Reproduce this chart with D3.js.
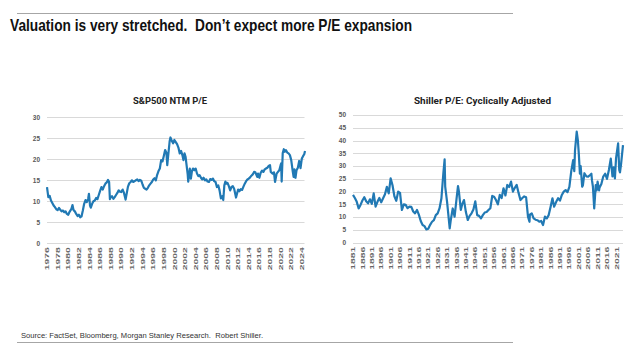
<!DOCTYPE html>
<html>
<head>
<meta charset="utf-8">
<script src="https://cdn.jsdelivr.net/npm/d3@7/dist/d3.min.js"></script>
<style>
  body { margin: 0; background: #fff; }
  svg { display: block; font-family: "Liberation Sans", Arial, sans-serif; }
</style>
</head>
<body>
<div id="chart"></div>
<script>
// --- Data ---
// S&P500 forward (NTM) P/E, [year, value]
var spxPE = [
  [1976.0, 13.4], [1976.25, 11.0], [1976.5, 11.3], [1976.75, 10.2],
  [1977.0, 9.6], [1977.25, 9.0], [1977.5, 8.6], [1977.75, 8.1],
  [1978.0, 7.9], [1978.25, 8.4], [1978.5, 8.0], [1978.75, 7.6],
  [1979.0, 7.8], [1979.25, 7.4], [1979.5, 7.6], [1979.75, 7.0],
  [1980.0, 6.8], [1980.25, 7.5], [1980.6, 8.2], [1980.8, 9.1], [1981.0, 7.9],
  [1981.25, 7.6], [1981.5, 7.0], [1981.75, 6.5], [1982.0, 6.8],
  [1982.25, 6.2], [1982.5, 6.4], [1982.75, 7.8], [1983.0, 9.4],
  [1983.25, 10.3], [1983.5, 9.8], [1983.75, 10.6], [1983.9, 11.8], [1984.1, 9.0],
  [1984.25, 8.5], [1984.5, 9.4], [1984.75, 10.0], [1985.0, 10.2],
  [1985.25, 10.8], [1985.5, 10.5], [1985.75, 11.5], [1986.0, 12.5],
  [1986.25, 13.4], [1986.5, 12.8], [1986.75, 13.6], [1987.0, 14.2],
  [1987.25, 14.5], [1987.5, 15.1], [1987.7, 14.6], [1987.85, 10.5], [1988.0, 11.0],
  [1988.25, 11.2], [1988.5, 10.6], [1988.75, 11.0], [1989.0, 11.5],
  [1989.25, 12.0], [1989.5, 12.6], [1989.75, 12.3], [1990.0, 12.2],
  [1990.25, 12.8], [1990.5, 12.0], [1990.8, 10.4], [1991.0, 11.8],
  [1991.25, 13.5], [1991.5, 14.3], [1991.75, 14.6], [1992.0, 15.0],
  [1992.25, 14.6], [1992.5, 14.8], [1992.75, 15.0], [1993.0, 15.2],
  [1993.25, 14.8], [1993.5, 15.1], [1993.75, 14.9], [1994.0, 14.0],
  [1994.25, 13.2], [1994.5, 13.0], [1994.75, 12.8], [1995.0, 13.2],
  [1995.25, 13.8], [1995.5, 14.2], [1995.75, 14.6], [1996.0, 15.2],
  [1996.25, 15.5], [1996.5, 15.0], [1996.75, 16.3], [1997.0, 17.2],
  [1997.25, 17.8], [1997.5, 19.8], [1997.75, 19.5], [1998.0, 20.8],
  [1998.25, 22.2], [1998.5, 21.5], [1998.65, 18.6], [1998.9, 21.8],
  [1999.1, 24.3], [1999.25, 25.2], [1999.5, 24.4], [1999.75, 23.8],
  [2000.0, 24.6], [2000.25, 24.1], [2000.5, 23.6], [2000.75, 22.8],
  [2001.0, 21.4], [2001.25, 22.0], [2001.5, 21.0], [2001.7, 19.8],
  [2001.9, 21.4], [2002.1, 20.6], [2002.3, 18.5], [2002.5, 16.4],
  [2002.6, 14.7], [2002.9, 17.8], [2003.1, 15.4], [2003.3, 17.2],
  [2003.5, 17.8], [2003.75, 17.4], [2004.0, 17.8], [2004.25, 16.6],
  [2004.5, 16.0], [2004.75, 16.2], [2005.0, 15.6], [2005.25, 15.2],
  [2005.5, 15.6], [2005.75, 15.0], [2006.0, 15.2], [2006.25, 14.7],
  [2006.5, 14.6], [2006.75, 15.3], [2007.0, 15.1], [2007.25, 15.4],
  [2007.5, 14.8], [2007.75, 14.6], [2008.0, 13.4], [2008.25, 13.8],
  [2008.5, 12.6], [2008.75, 10.7], [2009.0, 11.2], [2009.2, 10.3],
  [2009.4, 13.8], [2009.6, 14.7], [2009.8, 14.2], [2010.0, 14.4],
  [2010.25, 13.6], [2010.5, 12.6], [2010.75, 13.4], [2011.0, 13.6],
  [2011.25, 13.0], [2011.6, 10.9], [2011.75, 11.6], [2012.0, 12.8],
  [2012.25, 12.4], [2012.5, 12.9], [2012.75, 12.7], [2013.0, 13.5],
  [2013.25, 14.2], [2013.5, 14.8], [2013.75, 15.2], [2014.0, 15.4],
  [2014.25, 15.7], [2014.5, 16.1], [2014.75, 16.4], [2015.0, 17.0],
  [2015.25, 16.9], [2015.6, 15.8], [2015.75, 16.6], [2016.0, 15.6],
  [2016.25, 16.8], [2016.5, 17.3], [2016.75, 17.0], [2017.0, 17.6],
  [2017.25, 17.8], [2017.5, 18.0], [2017.75, 18.4], [2018.0, 18.6],
  [2018.15, 17.0], [2018.5, 16.6], [2018.75, 16.9], [2018.95, 14.6],
  [2019.25, 16.6], [2019.5, 17.0], [2019.75, 17.4], [2020.0, 18.6],
  [2020.1, 19.0], [2020.2, 14.7], [2020.4, 21.5], [2020.6, 22.4],
  [2020.8, 21.8], [2021.0, 22.2], [2021.25, 21.6], [2021.5, 21.4],
  [2021.75, 21.0], [2022.0, 19.8], [2022.3, 17.0], [2022.45, 15.8],
  [2022.6, 17.6], [2022.8, 15.6], [2023.0, 17.4], [2023.25, 18.0],
  [2023.5, 19.6], [2023.75, 17.9], [2024.0, 20.2], [2024.25, 20.8],
  [2024.45, 21.2], [2024.6, 22.0]
];

// Shiller cyclically adjusted P/E, [year, value]
var shillerPE = [
  [1881, 18.7], [1882, 17.5], [1883, 16.0], [1884, 13.4], [1885, 14.8],
  [1886, 16.5], [1887, 17.8], [1888, 16.2], [1889, 15.4], [1890, 17.0],
  [1891, 15.2], [1892, 19.3], [1893, 14.1], [1894, 16.0], [1895, 17.5],
  [1896, 15.8], [1897, 17.4], [1898, 19.0], [1899, 21.9], [1900, 19.3],
  [1901, 25.2], [1902, 22.5], [1903, 18.2], [1904, 16.4], [1905, 20.0],
  [1906, 19.5], [1907, 12.8], [1908, 15.0], [1909, 14.8], [1910, 13.5],
  [1911, 14.1], [1912, 14.0], [1913, 12.2], [1914, 11.5], [1915, 12.8],
  [1916, 11.0], [1917, 8.5], [1918, 6.9], [1919, 6.5], [1920, 5.2],
  [1921, 5.5], [1922, 7.0], [1923, 8.2], [1924, 8.8], [1925, 10.8],
  [1926, 11.5], [1927, 13.5], [1928, 17.4], [1929, 27.0], [1929.7, 32.6],
  [1930, 22.0], [1931, 16.0], [1932.4, 5.6], [1933, 9.0], [1934, 13.4],
  [1935, 10.2], [1936, 17.0], [1936.8, 22.2], [1937.3, 20.0], [1938.3, 12.8],
  [1939, 15.0], [1940, 16.7], [1941, 12.0], [1942, 8.9], [1943, 10.5],
  [1944, 11.5], [1945, 13.0], [1946, 16.2], [1947, 10.8], [1948, 10.5],
  [1949, 9.5], [1950, 10.8], [1951, 11.8], [1952, 12.0], [1953, 12.8],
  [1954, 13.5], [1955, 18.3], [1956, 18.0], [1957, 16.7], [1958, 15.0],
  [1959, 18.7], [1960, 17.5], [1961, 21.3], [1962, 18.5], [1963, 22.6],
  [1964, 21.8], [1965, 23.9], [1966, 20.0], [1967, 21.5], [1968, 22.6],
  [1969, 19.5], [1970, 16.7], [1971, 17.5], [1972, 18.1], [1973, 17.8],
  [1974, 10.2], [1974.8, 8.2], [1975, 11.0], [1976, 11.5], [1977, 9.5],
  [1978, 9.0], [1979, 8.8], [1980, 8.2], [1981, 8.5], [1982, 6.9],
  [1983, 10.2], [1984, 9.5], [1985, 10.8], [1986, 14.0], [1987, 17.4],
  [1987.9, 14.1], [1989, 16.0], [1990, 17.4], [1991, 16.5], [1992, 18.7],
  [1993, 20.0], [1994, 20.6], [1995, 19.8], [1996, 21.9], [1997, 28.0],
  [1998, 32.3], [1998.6, 28.0], [1999, 36.2], [1999.9, 43.5], [2000.5, 40.2],
  [2001, 35.0], [2001.6, 27.0], [2002, 30.0], [2002.8, 21.9], [2003.2, 22.5],
  [2004, 27.2], [2005, 26.0], [2006, 25.9], [2007, 26.5], [2007.7, 27.0],
  [2008, 24.5], [2008.5, 22.0], [2009.2, 13.4], [2009.8, 20.0], [2010, 22.6],
  [2010.5, 20.5], [2011, 23.9], [2011.8, 20.5], [2012, 21.5], [2013, 23.0],
  [2014, 25.9], [2015, 27.0], [2016, 25.0], [2017, 28.5], [2018, 32.9],
  [2018.9, 26.0], [2019.5, 29.5], [2020.2, 25.2], [2020.8, 33.0], [2021.9, 38.9],
  [2022.5, 28.5], [2022.9, 27.5], [2023.5, 31.0], [2024.5, 38.2]
];

var spxTickYears = d3.range(1976, 2025, 2);
var shillerTickYears = d3.range(1881, 2022, 5);
var spxYTicks = [0, 5, 10, 15, 20, 25, 30];
var shillerYTicks = [0, 5, 10, 15, 20, 25, 30, 35, 40, 45, 50];

var lineColor = "#2179b4";

var svg = d3.select("#chart").append("svg")
  .attr("width", 640)
  .attr("height", 350);

// header / footer rules
svg.append("line").attr("x1", 17).attr("x2", 513).attr("y1", 13.5).attr("y2", 13.5)
  .attr("stroke", "#a6a6a6").attr("stroke-width", 1);
svg.append("line").attr("x1", 17).attr("x2", 513).attr("y1", 342.5).attr("y2", 342.5)
  .attr("stroke", "#a6a6a6").attr("stroke-width", 1);

svg.append("text")
  .attr("x", 10).attr("y", 31)
  .attr("font-size", 16.5).attr("font-weight", "bold").attr("fill", "#111")
  .attr("textLength", 402).attr("lengthAdjust", "spacingAndGlyphs")
  .style("white-space", "pre")
  .text("Valuation is very stretched.  Don\u2019t expect more P/E expansion");

svg.append("text")
  .attr("x", 21).attr("y", 338)
  .attr("font-size", 7.5).attr("fill", "#333")
  .attr("textLength", 242).attr("lengthAdjust", "spacingAndGlyphs")
  .style("white-space", "pre")
  .text("Source: FactSet, Bloomberg, Morgan Stanley Research.  Robert Shiller.");

function drawPanel(opts) {
  var x = d3.scaleLinear().domain(opts.xDomain).range(opts.xRange);
  var y = d3.scaleLinear().domain(opts.yDomain).range(opts.yRange);
  var g = svg.append("g");

  // title
  g.append("text")
    .attr("x", opts.titleX).attr("y", opts.titleY)
    .attr("text-anchor", "middle")
    .attr("font-family", "Roboto, 'Liberation Sans', sans-serif")
    .attr("font-size", 9.5).attr("font-weight", "bold").attr("fill", "#222")
    .attr("textLength", opts.titleLen).attr("lengthAdjust", "spacingAndGlyphs")
    .text(opts.title);

  // gridlines
  g.append("g").selectAll("line")
    .data(opts.yTicks)
    .enter().append("line")
    .attr("x1", opts.xRange[0]).attr("x2", opts.xRange[1])
    .attr("y1", d => Math.round(y(d)) + 0.5).attr("y2", d => Math.round(y(d)) + 0.5)
    .attr("stroke", "#d9d9d9").attr("stroke-width", 1);

  // y labels
  g.append("g").selectAll("text")
    .data(opts.yTicks)
    .enter().append("text")
    .attr("x", opts.xRange[0] - 7)
    .attr("y", d => y(d))
    .attr("dy", "0.35em")
    .attr("text-anchor", "end")
    .attr("font-size", 6.5).attr("font-weight", "bold").attr("fill", "#595959")
    .text(d => d);

  // x labels (rotated)
  g.append("g").selectAll("text")
    .data(opts.xTicks)
    .enter().append("text")
    .attr("transform", d => `translate(${x(d)},${opts.yRange[0] + 4}) rotate(-90)`)
    .attr("dy", "0.35em")
    .attr("text-anchor", "end")
    .attr("font-size", 6).attr("font-weight", "bold").attr("fill", "#666")
    .attr("textLength", 23).attr("lengthAdjust", "spacingAndGlyphs")
    .text(d => d);

  var line = d3.line()
    .x(d => x(d[0]))
    .y(d => y(d[1]));

  g.append("path")
    .datum(opts.data)
    .attr("fill", "none")
    .attr("stroke", lineColor)
    .attr("stroke-width", 2.2)
    .attr("stroke-linejoin", "round")
    .attr("d", line);
}

drawPanel({
  data: spxPE,
  title: "S&P500 NTM P/E", titleX: 170, titleY: 104, titleLen: 74,
  xDomain: [1976, 2024.5], xRange: [47, 304.5],
  yDomain: [0, 30], yRange: [243.3, 117.3],
  xTicks: spxTickYears, yTicks: spxYTicks
});

drawPanel({
  data: shillerPE,
  title: "Shiller P/E: Cyclically Adjusted", titleX: 482.5, titleY: 103.5, titleLen: 137,
  xDomain: [1881, 2024.5], xRange: [353, 623],
  yDomain: [0, 50], yRange: [242.7, 115],
  xTicks: shillerTickYears, yTicks: shillerYTicks
});
</script>
</body>
</html>
